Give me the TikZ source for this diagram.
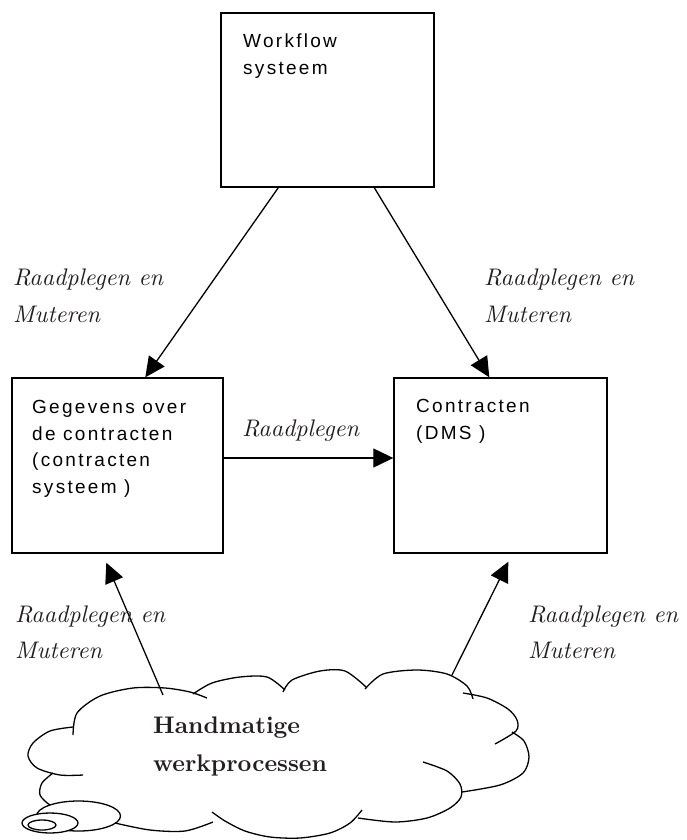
\documentclass[tikz,border=0pt]{standalone}
\usepackage{fontspec}
\newfontfamily\boxfont[LetterSpace=12]{Liberation Sans}
\newfontfamily\lblfont{lmroman10-italic.otf}
\newfontfamily\cloudfont{lmroman10-bold.otf}
\usetikzlibrary{arrows.meta,calc}
\definecolor{ink}{HTML}{231F20}
\begin{document}
\begin{tikzpicture}[x=1pt,y=-1pt,
  box/.style={draw,line width=1.4pt,inner sep=0pt,minimum width=213pt,minimum height=175pt},
  conn/.style={line width=1.3pt,-{Triangle[length=20pt,width=19pt]}},
  lobe/.style={line width=1.3pt},
  boxtxt/.style={anchor=base west,inner sep=0pt,font=\boxfont\fontsize{19}{26}\selectfont},
  lbl/.style={anchor=base west,inner sep=0pt,text=ink,font=\lblfont\fontsize{24}{30}\selectfont},
  cloudtxt/.style={anchor=base west,inner sep=0pt,text=ink,font=\cloudfont\fontsize{24}{30}\selectfont}]
\useasboundingbox (0,0) rectangle (687,840);

% boxes
\node[box,minimum height=174pt] (wf) at (327.5,100) {};
\node[box,minimum width=211pt] (gv) at (117.5,465.5) {};
\node[box] (ct) at (500.5,465.5) {};

% box texts
\node[boxtxt] (wf1) at (243,48) {Workflow};
\node[boxtxt] (wf2) at (243,75) {systeem};
\node[boxtxt] (gv1) at (32,413) {Gegevens over};
\node[boxtxt] (gv2) at (32,440) {de contracten};
\node[boxtxt] (gv3) at (32,466) {(contracten};
\node[boxtxt] (gv4) at (32,493) {systeem )};
\node[boxtxt] (ct1) at (416,412) {Contracten};
\node[boxtxt] (ct2) at (416,439) {(DMS )};

% cloud
\draw[lobe] plot[smooth] coordinates {(73,735) (77,713) (100,696) (133,688) (165,688) (190,692) (207,698)};
\draw[lobe] plot[smooth] coordinates {(193,694) (212,683) (240,677) (267,677) (285,690)};
\draw[lobe] plot[smooth] coordinates {(283,692) (292,680) (320,671) (345,671) (366,687)};
\draw[lobe] plot[smooth] coordinates {(365,689) (383,674) (417,670) (447,674) (467,686) (473,699)};
\draw[lobe] plot[smooth] coordinates {(463,693) (487,698) (508,709) (517,720) (516,731) (495,744)};
\draw[lobe] plot[smooth] coordinates {(512,732) (524,741) (529,757) (523,773) (500,785) (462,792)};
\draw[lobe] plot[smooth] coordinates {(423,762) (447,771) (460,784) (461,797) (450,808) (427,818) (395,822) (358,818)};
\draw[lobe] plot[smooth] coordinates {(362,810) (350,823) (330,833) (300,838) (270,837) (245,831) (225,821) (212,812)};
\draw[lobe] plot[smooth] coordinates {(115,823) (150,830) (185,831) (213,822)};
\draw[lobe] plot[smooth] coordinates {(73,727) (50,731) (33,743) (28,756) (37,768) (60,775) (83,775)};
\draw[lobe] plot[smooth] coordinates {(53,773) (42,783) (40,795) (50,805) (62,809)};
\draw[lobe,fill=white] (78.5,816) ellipse [x radius=42, y radius=15];
\draw[lobe,fill=white] (50,823) ellipse [x radius=28, y radius=10];
\draw[lobe,fill=white] (42,825) ellipse [x radius=14, y radius=5];
\coordinate (c1) at (163,695);
\coordinate (c2) at (452,675);

\node[cloudtxt] (hw1) at (153,733) {Handmatige};
\node[cloudtxt] (hw2) at (153,771) {werkprocessen};

% connector end points
\coordinate (a1) at ($(wf.south west)+(58,0)$);
\coordinate (a2) at ($(wf.south west)+(154,0)$);
\coordinate (b1) at ($(gv.north west)+(134,0)$);
\coordinate (b2) at ($(ct.north west)+(96,0)$);
\coordinate (h1) at ($(gv.east)+(0,-7.5)$);
\coordinate (h2) at ($(ct.west)+(0,-7.5)$);
\coordinate (u1) at ($(gv.south west)+(95,9)$);
\coordinate (u2) at ($(ct.south west)+(115,8)$);

% connectors
\draw[conn] (a1) -- (b1);
\draw[conn] (a2) -- (b2);
\draw[conn] (h1) -- (h2);
\draw[conn] (c1) -- (u1);
\draw[conn] (c2) -- (u2);

% labels
\node[lbl] (l1a) at (13,285) {Raadplegen en};
\node[lbl] (l1b) at (13,322) {Muteren};
\node[lbl] (l2a) at (484,285) {Raadplegen en};
\node[lbl] (l2b) at (484,322) {Muteren};
\node[lbl] (l3) at (242,436) {Raadplegen};
\node[lbl] (l4a) at (15,622) {Raadplegen en};
\node[lbl] (l4b) at (15,658) {Muteren};
\node[lbl] (l5a) at (528,622) {Raadplegen en};
\node[lbl] (l5b) at (528,658) {Muteren};
\end{tikzpicture}
\end{document}
